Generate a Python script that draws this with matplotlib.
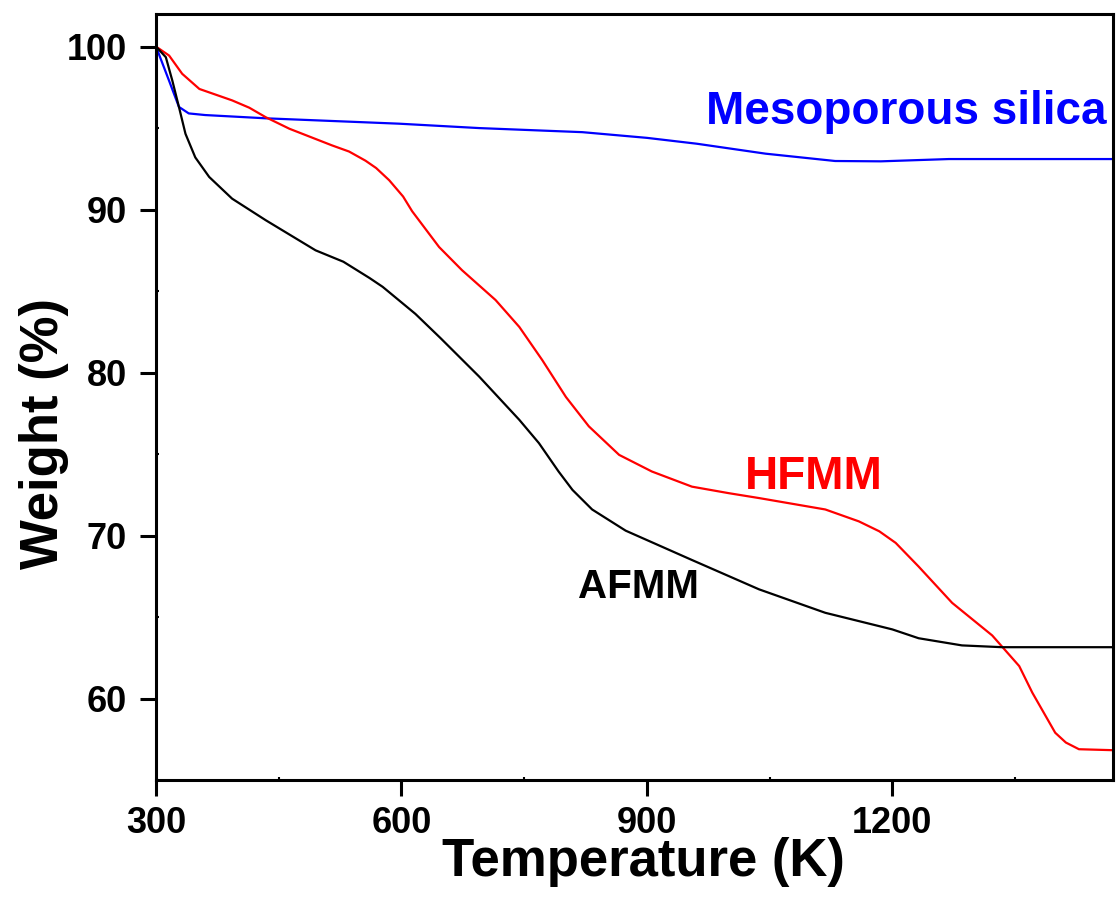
import matplotlib
matplotlib.use("Agg")
import matplotlib.pyplot as plt
from matplotlib.ticker import MultipleLocator

plt.rcParams['font.family'] = ['Liberation Sans', 'DejaVu Sans']
plt.rcParams['font.weight'] = 'bold'

# Thermogravimetric curves: temperature (K) vs remaining weight (%)
afmm_t = [300, 312, 320, 328, 336, 348, 365, 393, 434, 495, 529, 561, 577, 617,
          648, 695, 744, 768, 792, 809, 833, 874, 955, 1037, 1118, 1184, 1200,
          1232, 1285, 1334, 1470]
afmm_w = [100, 99.35, 97.9, 96.3, 94.65, 93.2, 92.0, 90.67, 89.35, 87.5, 86.8,
          85.8, 85.26, 83.6, 82.1, 79.75, 77.1, 75.67, 73.93, 72.8, 71.6, 70.3,
          68.5, 66.7, 65.26, 64.44, 64.24, 63.7, 63.26, 63.15, 63.15]

hfmm_t = [300, 316, 332, 353, 393, 414, 434, 463, 515, 536, 556, 569, 585, 602,
          613, 646, 674, 715, 744, 772, 801, 829, 866, 906, 955, 1000, 1037, 1118,
          1159, 1184, 1204, 1232, 1273, 1322, 1355, 1371, 1399, 1412, 1428, 1470]
hfmm_w = [100, 99.45, 98.33, 97.4, 96.7, 96.25, 95.67, 94.96, 93.94, 93.56,
          93.0, 92.55, 91.8, 90.8, 89.9, 87.7, 86.28, 84.45, 82.8, 80.77, 78.5,
          76.7, 74.95, 73.93, 73.0, 72.6, 72.3, 71.6, 70.87, 70.26, 69.55, 68.1,
          65.87, 63.87, 61.99, 60.36, 57.9, 57.3, 56.89, 56.83]

silica_t = [300, 316, 328, 340, 360, 434, 597, 695, 821, 900, 961, 1045, 1130,
            1186, 1269, 1470]
silica_w = [100, 97.9, 96.3, 95.9, 95.8, 95.6, 95.27, 95.0, 94.75, 94.4, 94.04,
            93.43, 92.98, 92.96, 93.1, 93.1]

x_ticks = [300, 600, 900, 1200]
y_ticks = [60, 70, 80, 90, 100]

fig = plt.figure(figsize=(11.16, 8.97), dpi=100)
ax = fig.add_axes([0.1398, 0.1304, 0.8578, 0.854])

ax.plot(silica_t, silica_w, color='#0000ff', lw=1.6)
ax.plot(hfmm_t, hfmm_w, color='#ff0000', lw=1.6)
ax.plot(afmm_t, afmm_w, color='black', lw=1.6)

ax.set_xlim(300, 1470)
ax.set_ylim(55, 102)
ax.set_xticks(x_ticks)
ax.set_yticks(y_ticks)
ax.xaxis.set_minor_locator(MultipleLocator(150))
ax.yaxis.set_minor_locator(MultipleLocator(5))

for s in ax.spines.values():
    s.set_linewidth(2.2)

ax.tick_params(which='major', direction='out', length=11.5, width=2.2,
               labelsize=26)
ax.tick_params(which='minor', direction='in', length=2.5, width=1.5)
ax.tick_params(axis='x', which='major', pad=7)
ax.tick_params(axis='y', which='major', pad=9.5)
for lbl in ax.get_xticklabels() + ax.get_yticklabels():
    lbl.set_fontweight('bold')

ax.set_xlabel('Temperature (K)', fontsize=38, fontweight='bold', labelpad=-2.5)
ax.set_ylabel('Weight (%)', fontsize=38, fontweight='bold', labelpad=-2)
ax.xaxis.label.set_x(0.509)
ax.yaxis.label.set_y(0.453)

ax.text(972, 95.26, 'Mesoporous silica', color='#0000ff', fontsize=33,
        fontweight='bold', ha='left', va='baseline')
ax.text(1020, 72.86, 'HFMM', color='#ff0000', fontsize=33,
        fontweight='bold', ha='left', va='baseline')
ax.text(816, 66.18, 'AFMM', color='black', fontsize=29,
        fontweight='bold', ha='left', va='baseline')

fig.savefig('out.png', dpi=100)
